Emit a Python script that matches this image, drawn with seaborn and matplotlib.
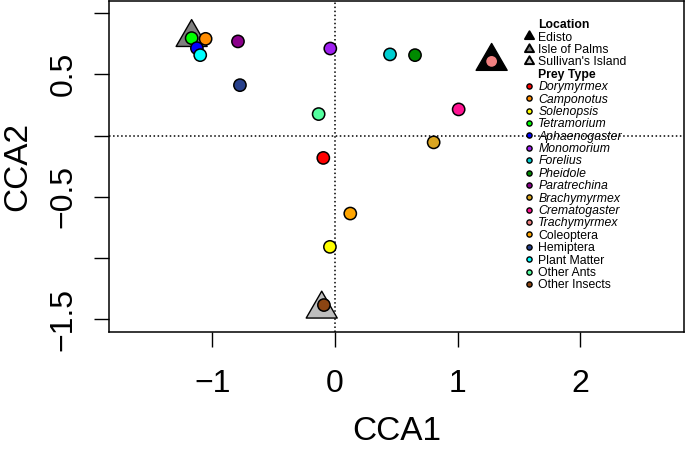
import matplotlib
matplotlib.use("Agg")
import matplotlib.pyplot as plt
import seaborn as sns
import pandas as pd
import numpy as np
from matplotlib.path import Path

sns.set_style("white")
plt.rcParams['font.family'] = ['Liberation Sans', 'DejaVu Sans']
plt.rcParams.update({"text.color": "black", "axes.labelcolor": "black",
                     "xtick.color": "black", "ytick.color": "black"})

# ---- data ----
locations = ["Edisto", "Isle of Palms", "Sullivan's Island"]
loc_x = [1.278, -1.169, -0.108]
loc_y = [0.606, 0.801, -1.416]
loc_fill = ["#000000", "#7F7F7F", "#BEBEBE"]

prey = ["Dorymyrmex", "Camponotus", "Solenopsis", "Tetramorium", "Aphaenogaster",
        "Monomorium", "Forelius", "Pheidole", "Paratrechina", "Brachymyrmex",
        "Crematogaster", "Trachymyrmex", "Coleoptera", "Hemiptera", "Plant Matter",
        "Other Ants", "Other Insects"]
prey_x = [-0.095, -1.055, -0.041, -1.169, -1.126, -0.038, 0.449, 0.653, -0.791,
          0.805, 1.009, 1.278, 0.125, -0.775, -1.099, -0.133, -0.090]
prey_y = [-0.182, 0.790, -0.908, 0.796, 0.714, 0.711, 0.663, 0.657, 0.769,
          -0.055, 0.214, 0.606, -0.636, 0.412, 0.657, 0.176, -1.383]
prey_colors = ["#FF0000", "#FF8C00", "#FFFF00", "#00FF00", "#0000FF",
               "#A020F0", "#00CED1", "#008B00", "#8B008B", "#DAA520",
               "#FF1493", "#F08080", "#FFA500", "#27408B", "#00FFFF",
               "#54FF9F", "#8B4513"]
italic_prey = [True] * 12 + [False] * 5

x_ticks = [-1, 0, 1, 2]
y_ticks = [1.0, 0.5, 0.0, -0.5, -1.0, -1.5]
y_tick_labels = ["", "0.5", "", "\u22120.5", "", "\u22121.5"]
x_tick_labels = ["\u22121", "0", "1", "2"]

W, H = 685, 451
fig = plt.figure(figsize=(W / 100, H / 100), dpi=100)
ax = fig.add_axes([109 / W, (H - 332) / H, 575 / W, 331.5 / H])

# equilateral triangle marker centred on centroid (like R pch 24)
tri = Path([(0, 1.0), (-0.866, -0.5), (0.866, -0.5), (0, 1.0)],
           [Path.MOVETO, Path.LINETO, Path.LINETO, Path.CLOSEPOLY])

# reference lines
ax.axvline(0, color="black", ls=":", lw=1.1, zorder=1)
ax.axhline(0, color="black", ls=":", lw=1.1, zorder=1)

loc_df = pd.DataFrame({"x": loc_x, "y": loc_y, "loc": locations})
sns.scatterplot(data=loc_df, x="x", y="y", hue="loc",
                palette=dict(zip(locations, loc_fill)), marker=tri, s=25.8 ** 2,
                edgecolor="black", linewidth=1.0, legend=False, ax=ax, zorder=2)

prey_df = pd.DataFrame({"x": prey_x, "y": prey_y, "prey": prey})
sns.scatterplot(data=prey_df, x="x", y="y", hue="prey",
                palette=dict(zip(prey, prey_colors)), s=78,
                edgecolor="black", linewidth=1.1, legend=False, ax=ax, zorder=3)

ax.set_xlim(-1.843, 2.847)
ax.set_ylim(-1.603, 1.103)
ax.set_xticks(x_ticks)
ax.set_xticklabels(x_tick_labels)
ax.set_yticks(y_ticks)
ax.set_yticklabels(y_tick_labels, rotation=90, va="center")
ax.tick_params(axis="both", direction="out", length=11, width=1.0,
               labelsize=23, color="black", left=True, bottom=True)
ax.tick_params(axis="x", pad=16)
ax.tick_params(axis="y", pad=11)
ax.set_xlabel("CCA1", fontsize=24, labelpad=12)
ax.set_ylabel("CCA2", fontsize=24, labelpad=11)
for sp in ax.spines.values():
    sp.set_visible(True)
    sp.set_color("black")
    sp.set_linewidth(1.1)

# ---- legend (drawn manually, R style) ----
def ax_xy(px, py):
    return (px - 109) / 575, (332 - py) / 331.5

rows = (["__Location"] + locations + ["__Prey Type"] + prey)
y0, dy = 24.0, 12.38
text_x, mark_x = 538.3, 528.5
leg_fs = 8.8
for i, r in enumerate(rows):
    cy = y0 + i * dy
    tx, ty = ax_xy(text_x, cy + 4.3)
    if r.startswith("__"):
        ax.text(tx, ty, r[2:], transform=ax.transAxes, fontsize=leg_fs,
                fontweight="bold", va="baseline", ha="left")
        continue
    mx, my = ax_xy(mark_x, cy)
    if r in locations:
        j = locations.index(r)
        ax.scatter([mx], [my], transform=ax.transAxes, marker=tri, s=7.5 ** 2,
                   facecolor=loc_fill[j], edgecolor="black", linewidth=1.4,
                   clip_on=False, zorder=4)
        ax.text(tx, ty, r, transform=ax.transAxes, fontsize=leg_fs,
                va="baseline", ha="left")
    else:
        j = prey.index(r)
        ax.scatter([mx], [my], transform=ax.transAxes, marker="o", s=14,
                   facecolor=prey_colors[j], edgecolor="black", linewidth=1.0,
                   clip_on=False, zorder=4)
        ax.text(tx, ty, r, transform=ax.transAxes, fontsize=leg_fs,
                style="italic" if italic_prey[j] else "normal",
                va="baseline", ha="left")

fig.savefig("out.png", dpi=100)
